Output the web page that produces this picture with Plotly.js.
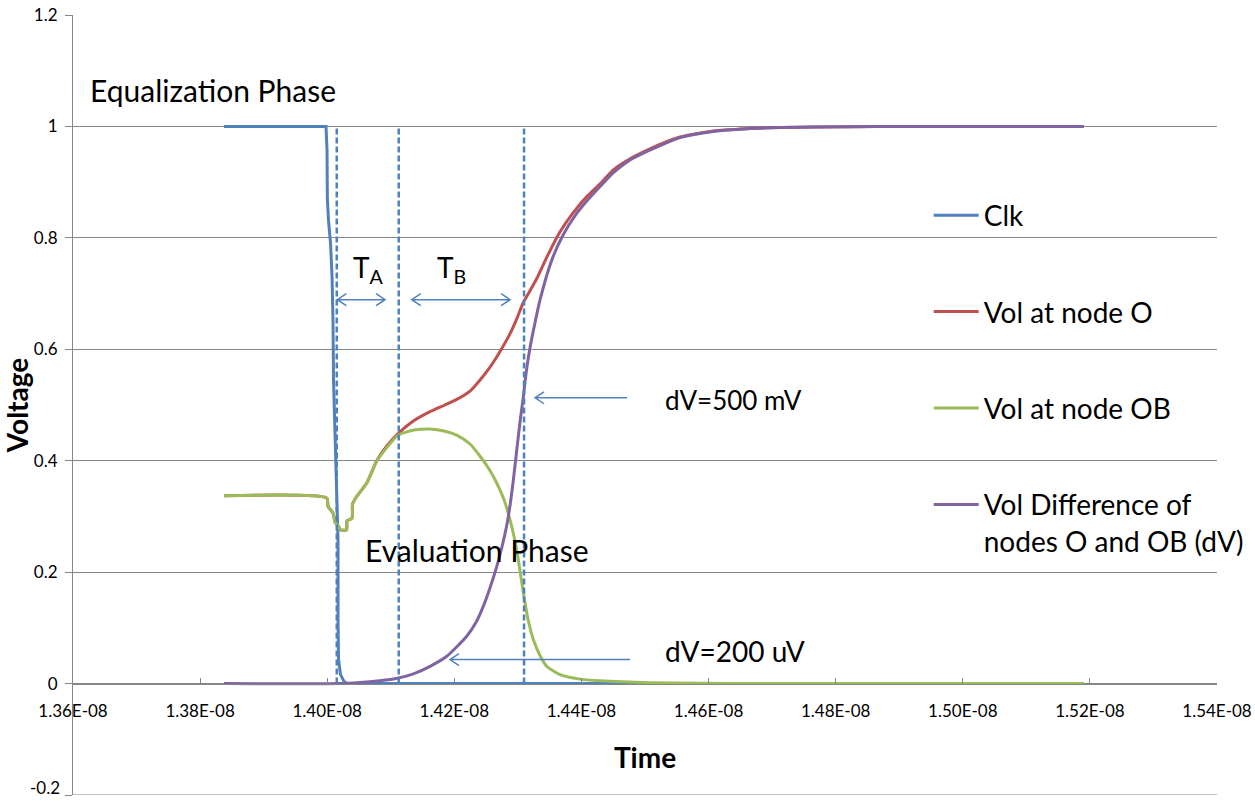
<!DOCTYPE html>
<html>
<head>
<meta charset="utf-8">
<script src="https://cdn.plot.ly/plotly-3.0.1.min.js"></script>
<style>
  html, body { margin: 0; padding: 0; background: #ffffff; }
  #chart { width: 1255px; height: 801px; }
</style>
</head>
<body>
<div id="chart"></div>
<script>
// ---------------- DATA (time in ns, voltage in V) ----------------
const clkTime = [13.8376, 13.9981, 13.9997, 14.0002, 14.0021, 14.0052, 14.0076, 14.0091, 14.0099, 14.0123, 14.0154, 14.0170, 14.0170, 14.0178, 14.0209, 14.0264, 14.0312, 15.1903];
const clkVolt = [1, 1, 0.957, 0.870, 0.830, 0.790, 0.730, 0.650, 0.545, 0.4375, 0.348, 0.258, 0.115, 0.043, 0.016, 0.004, 0, 0];

const nodeOTime = [13.8376, 13.9992, 14.0013, 14.0091, 14.0123, 14.0178, 14.0202, 14.0304, 14.0312, 14.0390, 14.0398, 14.0453, 14.0622, 14.0779, 14.0941, 14.1119, 14.1366, 14.1618, 14.1854, 14.2038, 14.2247, 14.2405, 14.2562, 14.2719, 14.2877, 14.2987, 14.3086, 14.3191, 14.3297, 14.3475, 14.3663, 14.3868, 14.4084, 14.4293, 14.4502, 14.4765, 14.5028, 14.5284, 14.5552, 14.6076, 14.6601, 14.7125, 14.8227, 14.9014, 15.1903];
const nodeOVolt = [0.337, 0.333, 0.318, 0.306, 0.290, 0.282, 0.276, 0.276, 0.292, 0.297, 0.322, 0.334, 0.360, 0.400, 0.427, 0.449, 0.472, 0.488, 0.500, 0.510, 0.525, 0.545, 0.568, 0.596, 0.628, 0.656, 0.684, 0.705, 0.727, 0.770, 0.811, 0.845, 0.874, 0.897, 0.922, 0.942, 0.957, 0.970, 0.981, 0.992, 0.996, 0.998, 0.9995, 1.0, 1.0];

const nodeOBTime = [13.8376, 13.9992, 14.0013, 14.0091, 14.0123, 14.0178, 14.0202, 14.0304, 14.0312, 14.0390, 14.0398, 14.0453, 14.0622, 14.0779, 14.0941, 14.1119, 14.1366, 14.1618, 14.1854, 14.2038, 14.2247, 14.2405, 14.2546, 14.2667, 14.2782, 14.2877, 14.2947, 14.3007, 14.3086, 14.3160, 14.3243, 14.3349, 14.3454, 14.3663, 14.3978, 14.4293, 14.5080, 14.5867, 14.6811, 15.1903];
const nodeOBVolt = [0.337, 0.333, 0.318, 0.306, 0.290, 0.282, 0.276, 0.276, 0.292, 0.297, 0.322, 0.334, 0.360, 0.399, 0.424, 0.446, 0.455, 0.457, 0.453, 0.446, 0.430, 0.408, 0.385, 0.360, 0.330, 0.294, 0.260, 0.222, 0.163, 0.115, 0.079, 0.050, 0.031, 0.016, 0.008, 0.005, 0.0015, 0.0005, 0, 0];

const diffTime = [13.8376, 14.0202, 14.0516, 14.0831, 14.1119, 14.1366, 14.1618, 14.1881, 14.2195, 14.2342, 14.2457, 14.2562, 14.2667, 14.2751, 14.2825, 14.2877, 14.2929, 14.2987, 14.3034, 14.3086, 14.3128, 14.3191, 14.3270, 14.3349, 14.3533, 14.3715, 14.3900, 14.4084, 14.4293, 14.4502, 14.4765, 14.5028, 14.5284, 14.5552, 14.6076, 14.6601, 14.7125, 14.8227, 14.9014, 15.1903];
const diffVolt = [0, 0, 0.002, 0.005, 0.010, 0.018, 0.031, 0.049, 0.085, 0.110, 0.139, 0.172, 0.210, 0.246, 0.284, 0.320, 0.366, 0.424, 0.470, 0.515, 0.556, 0.603, 0.648, 0.689, 0.760, 0.806, 0.840, 0.866, 0.892, 0.917, 0.940, 0.955, 0.968, 0.980, 0.991, 0.996, 0.998, 0.9995, 1.0, 1.0];

const seriesNames = ["Clk", "Vol at node O", "Vol at node OB", "Vol Difference of<br>nodes O and OB (dV)"];
const seriesColors = ["#4F81BD", "#C0504D", "#9BBB59", "#8064A2"];

const xTickVals = [13.6, 13.8, 14.0, 14.2, 14.4, 14.6, 14.8, 15.0, 15.2, 15.4];
const xTickText = ["1.36E-08", "1.38E-08", "1.40E-08", "1.42E-08", "1.44E-08", "1.46E-08", "1.48E-08", "1.50E-08", "1.52E-08", "1.54E-08"];
const yTickVals = [-0.2, 0, 0.2, 0.4, 0.6, 0.8, 1, 1.2];
const yTickText = ["-0.2", "0", "0.2", "0.4", "0.6", "0.8", "1", "1.2"];

// marker (dashed) lines, in ns
const markerTimes = [14.0150, 14.1125, 14.3097];
// arrows: start, end (head), level, double-headed?
const arrowStart = [14.0159, 14.1330, 14.4718, 14.4765];
const arrowEnd   = [14.0910, 14.2877, 14.3270, 14.1932];
const arrowLevel = [0.689, 0.689, 0.513, 0.043];
const arrowBoth  = [true, true, false, false];
// text labels
const labelText = ["Equalization Phase", "Evaluation Phase", "T<sub>A</sub>", "T<sub>B</sub>", "dV=500 mV", "dV=200 uV"];
const labelTime = [13.6240, 14.0570, 14.0380, 14.1700, 14.5280, 14.5280];
const labelVolt = [1.066, 0.240, 0.745, 0.745, 0.509, 0.059];
const labelSize = [30, 30, 28, 28, 26, 28];

// ---------------- BUILD ----------------
const FONT = "Lato, 'Open Sans', sans-serif";
const TICK_FONT = { family: FONT, size: 17, color: "#000000" };
const GRID = "#868686";
const seriesT = [clkTime, nodeOTime, nodeOBTime, diffTime];
const seriesV = [clkVolt, nodeOVolt, nodeOBVolt, diffVolt];

const traces = seriesNames.map((n, i) => ({
  type: "scatter",
  mode: "lines",
  name: n,
  x: seriesT[i],
  y: seriesV[i],
  legendgroup: "g" + i,
  line: { color: seriesColors[i], width: 3, shape: i === 0 ? "linear" : "spline", smoothing: 0.6 },
  hoverinfo: "x+y+name"
}));

const xRange = [13.6, 15.4], yRange = [-0.2, 1.2];
const plotW = 1143.7, plotH = 781;
const pxX = (xRange[1] - xRange[0]) / plotW;
const pxY = (yRange[1] - yRange[0]) / plotH;

const shapes = [];
// bottom gridline (Plotly omits the one on the plot edge)
shapes.push({ type: "line", xref: "paper", yref: "y", x0: 0, x1: 1, y0: yRange[0], y1: yRange[0],
  line: { color: GRID, width: 1 }, layer: "below" });
markerTimes.forEach(t => shapes.push({
  type: "line", xref: "x", yref: "y", x0: t, x1: t, y0: 0, y1: 1,
  line: { color: "#4F81BD", width: 2.5, dash: "6px,3px" }
}));
function head(xTip, y, dir) {
  const dx = 9 * pxX * dir, dy = 6 * pxY;
  return `M${xTip - dx},${y + dy} L${xTip},${y} L${xTip - dx},${y - dy}`;
}
arrowStart.forEach((s, i) => {
  const e = arrowEnd[i], y = arrowLevel[i];
  const dir = e > s ? 1 : -1;
  let p = `M${s},${y} L${e},${y} ` + head(e, y, dir);
  if (arrowBoth[i]) p += " " + head(s, y, -dir);
  shapes.push({ type: "path", xref: "x", yref: "y", path: p, line: { color: "#4F81BD", width: 1.5 } });
});

const annotations = labelText.map((t, i) => ({
  text: t, x: labelTime[i], y: labelVolt[i], xref: "x", yref: "y",
  xanchor: "left", yanchor: "middle", showarrow: false,
  font: { family: FONT, size: labelSize[i], color: "#000000" }
}));
// bottom y tick label (Plotly drops the label on the plot edge)
annotations.push({
  text: yTickText[0], x: 0, y: yTickVals[0], xref: "paper", yref: "y",
  xanchor: "right", yanchor: "bottom", xshift: -11, yshift: -5, showarrow: false,
  font: TICK_FONT
});

const layout = {
  width: 1255, height: 801,
  margin: { l: 73, r: 38, t: 14.5, b: 5.5 },
  paper_bgcolor: "#ffffff", plot_bgcolor: "#ffffff",
  font: { family: FONT, color: "#000000" },
  showlegend: true,
  legend: {
    x: 0.748, y: 0.775, xanchor: "left", yanchor: "top",
    font: { family: FONT, size: 28, color: "#000000" },
    traceorder: "grouped", tracegroupgap: 57, valign: "top",
    bgcolor: "rgba(0,0,0,0)", borderwidth: 0, itemwidth: 45
  },
  xaxis: {
    range: xRange, anchor: "free", position: (0 - yRange[0]) / (yRange[1] - yRange[0]),
    tickvals: xTickVals, ticktext: xTickText,
    showgrid: false, zeroline: false,
    showline: true, linecolor: GRID, linewidth: 1,
    ticks: "inside", ticklen: 6, tickcolor: GRID,
    ticklabelstandoff: 12,
    tickfont: TICK_FONT,
    title: { text: "Time", font: { family: FONT, size: 28, color: "#000000", weight: "bold" }, standoff: 28 }
  },
  yaxis: {
    range: yRange, tickvals: yTickVals, ticktext: yTickText,
    showgrid: true, gridcolor: GRID, gridwidth: 1, zeroline: false,
    showline: true, linecolor: GRID, linewidth: 1,
    ticks: "outside", ticklen: 7, tickcolor: GRID,
    ticklabelstandoff: 4,
    tickfont: TICK_FONT,
    title: { text: "Voltage", font: { family: FONT, size: 28, color: "#000000", weight: "bold" }, standoff: 0 }
  },
  shapes: shapes,
  annotations: annotations
};

Plotly.newPlot("chart", traces, layout, { displayModeBar: false, staticPlot: true });
</script>
</body>
</html>
